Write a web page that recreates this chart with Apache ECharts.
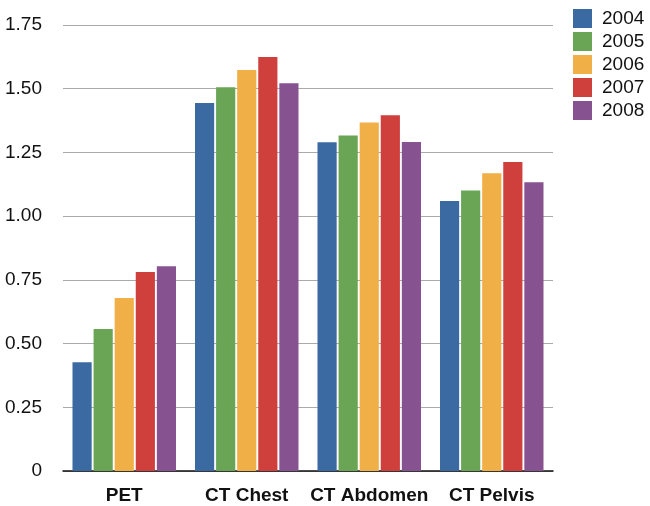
<!DOCTYPE html>
<html>
<head>
<meta charset="utf-8">
<script src="https://cdn.jsdelivr.net/npm/echarts@6/dist/echarts.min.js"></script>
<style>html,body{margin:0;padding:0;background:#fff;}#c{width:650px;height:506px;}</style>
</head>
<body>
<div id="c"></div>
<script>
const categories = ['PET', 'CT Chest', 'CT Abdomen', 'CT Pelvis'];
const years = ['2004', '2005', '2006', '2007', '2008'];
const v2004 = [0.427, 1.444, 1.290, 1.059];
const v2005 = [0.557, 1.506, 1.316, 1.101];
const v2006 = [0.679, 1.573, 1.367, 1.168];
const v2007 = [0.781, 1.624, 1.396, 1.212];
const v2008 = [0.803, 1.521, 1.291, 1.133];
const seriesValues = [v2004, v2005, v2006, v2007, v2008];
const colors = ['#3b6aa3', '#6aa556', '#f0b047', '#cf3f3c', '#875290'];

const chart = echarts.init(document.getElementById('c'));
chart.setOption({
  animation: false,
  color: colors,
  textStyle: { fontFamily: 'Liberation Sans, Arial, sans-serif' },
  grid: { left: 63, right: 97, top: 25, bottom: 35 },
  legend: {
    orient: 'vertical',
    left: 568, top: 4,
    itemWidth: 19, itemHeight: 19, itemGap: 4,
    icon: 'rect',
    textStyle: { fontSize: 19, color: '#111', padding: [0, 0, 0, 5] },
    data: years
  },
  xAxis: {
    type: 'category',
    data: categories,
    axisTick: { show: false },
    axisLine: { lineStyle: { color: '#111', width: 1.5 } },
    axisLabel: { fontSize: 19, fontWeight: 'bold', color: '#111', margin: 15, interval: 0, hideOverlap: false }
  },
  yAxis: {
    type: 'value',
    min: 0, max: 1.75, interval: 0.25,
    axisLine: { show: false },
    axisTick: { show: false },
    splitLine: { lineStyle: { color: '#aaa', width: 1 } },
    axisLabel: {
      fontSize: 19, color: '#111', margin: 21,
      formatter: v => v === 0 ? '0' : v.toFixed(2)
    }
  },
  series: years.map((y, i) => ({
    name: y,
    type: 'bar',
    data: seriesValues[i],
    barGap: '10%',
    barCategoryGap: '15.5%'
  }))
});
</script>
</body>
</html>
